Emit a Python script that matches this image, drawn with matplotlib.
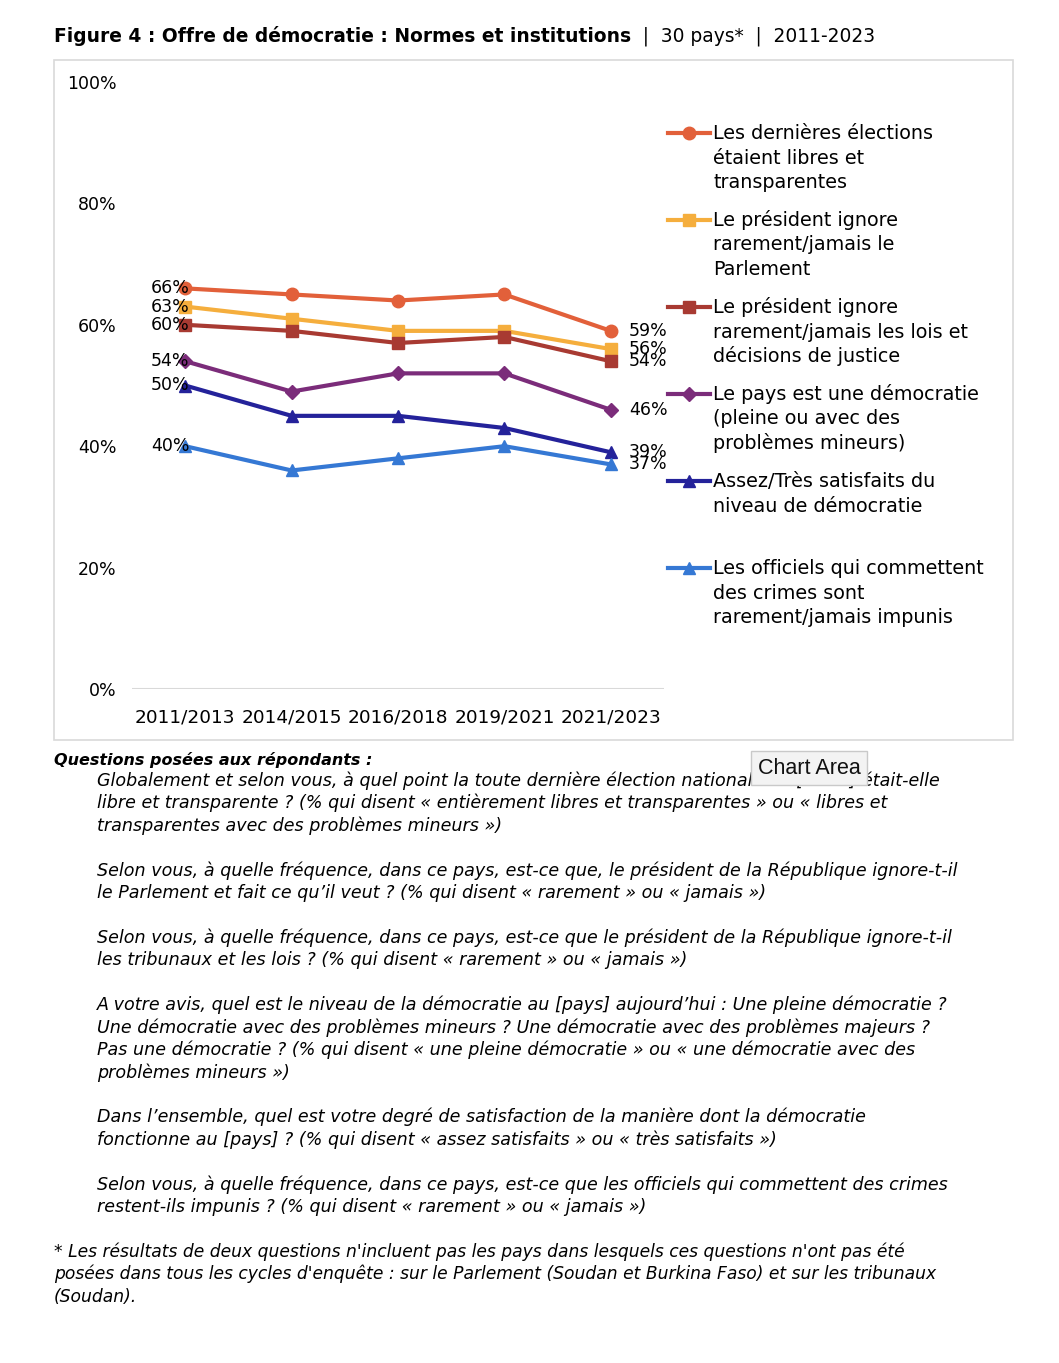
import matplotlib
matplotlib.use('Agg')
import matplotlib.pyplot as plt
from matplotlib.lines import Line2D
from matplotlib.patches import Rectangle

W, H = 1059, 1363
plt.rcParams['font.family'] = ['DejaVu Sans']

# ---------------- data ----------------
periods = ["2011/2013", "2014/2015", "2016/2018", "2019/2021", "2021/2023"]
series_names = [
    "Les dernières élections\nétaient libres et\ntransparentes",
    "Le président ignore\nrarement/jamais le\nParlement",
    "Le président ignore\nrarement/jamais les lois et\ndécisions de justice",
    "Le pays est une démocratie\n(pleine ou avec des\nproblèmes mineurs)",
    "Assez/Très satisfaits du\nniveau de démocratie",
    "Les officiels qui commettent\ndes crimes sont\nrarement/jamais impunis",
]
elections = [66, 65, 64, 65, 59]
parlement = [63, 61, 59, 59, 56]
justice = [60, 59, 57, 58, 54]
democratie = [54, 49, 52, 52, 46]
satisfaits = [50, 45, 45, 43, 39]
impunis = [40, 36, 38, 40, 37]
series_values = [elections, parlement, justice, democratie, satisfaits, impunis]
yticks = [0, 20, 40, 60, 80, 100]

title_bold = "Figure 4 : Offre de démocratie : Normes et institutions"
title_rest = "  |  30 pays*  |  2011-2023"
questions_header = "Questions posées aux répondants :"
questions = [
    ["Globalement et selon vous, à quel point la toute dernière élection nationale de [20XX] était-elle",
     "libre et transparente ? (% qui disent « entièrement libres et transparentes » ou « libres et",
     "transparentes avec des problèmes mineurs »)"],
    ["Selon vous, à quelle fréquence, dans ce pays, est-ce que, le président de la République ignore-t-il",
     "le Parlement et fait ce qu’il veut ? (% qui disent « rarement » ou « jamais »)"],
    ["Selon vous, à quelle fréquence, dans ce pays, est-ce que le président de la République ignore-t-il",
     "les tribunaux et les lois ? (% qui disent « rarement » ou « jamais »)"],
    ["A votre avis, quel est le niveau de la démocratie au [pays] aujourd’hui : Une pleine démocratie ?",
     "Une démocratie avec des problèmes mineurs ? Une démocratie avec des problèmes majeurs ?",
     "Pas une démocratie ? (% qui disent « une pleine démocratie » ou « une démocratie avec des",
     "problèmes mineurs »)"],
    ["Dans l’ensemble, quel est votre degré de satisfaction de la manière dont la démocratie",
     "fonctionne au [pays] ? (% qui disent « assez satisfaits » ou « très satisfaits »)"],
    ["Selon vous, à quelle fréquence, dans ce pays, est-ce que les officiels qui commettent des crimes",
     "restent-ils impunis ? (% qui disent « rarement » ou « jamais »)"],
]
footnote = [
    "* Les résultats de deux questions n'incluent pas les pays dans lesquels ces questions n'ont pas été",
    "posées dans tous les cycles d'enquête : sur le Parlement (Soudan et Burkina Faso) et sur les tribunaux",
    "(Soudan).",
]

# ---------------- style ----------------
colors = ['#E2603A', '#F5AE3D', '#A83A32', '#7B2C7A', '#24229A', '#3578D4']
markers = ['o', 's', 's', 'D', '^', '^']
msizes = [9, 8.5, 8.5, 7, 9, 9]


def fx(x):
    return x / W


def fy(y):
    return 1 - y / H


fig = plt.figure(figsize=(W / 100, H / 100), dpi=100)
fig.patch.set_facecolor('white')

# chart frame
fig.add_artist(Rectangle((fx(54), fy(740)), fx(1013) - fx(54), fy(60) - fy(740),
                         transform=fig.transFigure, facecolor='none',
                         edgecolor='#d9d9d9', lw=1.2))

ax = fig.add_axes([fx(132), fy(689), fx(664) - fx(132), fy(82) - fy(689)])
ax.set_xlim(-0.5, len(periods) - 0.5)
ax.set_ylim(0, 100)
for s in ax.spines.values():
    s.set_visible(False)
ax.axhline(0, color='#d9d9d9', lw=1.5, zorder=1)
ax.set_yticks(yticks)
ax.set_yticklabels([f"{v}%" for v in yticks], fontsize=12.5)
ax.set_xticks(range(len(periods)))
ax.set_xticklabels(periods, fontsize=13.3)
ax.tick_params(axis='both', length=0)
ax.tick_params(axis='y', pad=11)
ax.tick_params(axis='x', pad=14)

x = list(range(len(periods)))
for vals, c, m, ms in zip(series_values, colors, markers, msizes):
    ax.plot(x, vals, color=c, lw=3, marker=m, markersize=ms, clip_on=False, zorder=3)
    ax.annotate(f"{vals[0]}%", (x[0], vals[0]), xytext=(3, 0), textcoords='offset points',
                ha='right', va='center', fontsize=12.5, zorder=4)
    ax.annotate(f"{vals[-1]}%", (x[-1], vals[-1]), xytext=(13, 0), textcoords='offset points',
                ha='left', va='center', fontsize=12.5, zorder=4)

# legend (manual, fixed entry pitch like the original)
for i, (name, c, m, ms) in enumerate(zip(series_names, colors, markers, msizes)):
    yc = 133 + 87 * i
    fig.add_artist(Line2D([fx(668), fx(710)], [fy(yc), fy(yc)], transform=fig.transFigure,
                          color=c, lw=3))
    fig.add_artist(Line2D([fx(689)], [fy(yc)], transform=fig.transFigure, color=c,
                          marker=m, markersize=ms, lw=0))
    for j, line in enumerate(name.split("\n")):
        fig.text(fx(713), fy(yc + 24.5 * j + 6), line, fontsize=13.8, va='baseline', ha='left')

# title
renderer = fig.canvas.get_renderer()
t1 = fig.text(fx(54), fy(42), title_bold, fontsize=13.4, fontweight='bold', va='baseline')
bb = t1.get_window_extent(renderer)
fig.text(bb.x1 / W, fy(42), title_rest, fontsize=13.4, va='baseline')

# questions
fig.text(fx(54), fy(765), questions_header, fontsize=11.5, fontweight='bold', style='italic',
         va='baseline')
pitch = 22.43
row = 0
for para in questions:
    for line in para:
        fig.text(fx(97), fy(781 + pitch * row + 5), line, fontsize=12.6, style='italic',
                 va='baseline')
        row += 1
    row += 1
for line in footnote:
    fig.text(fx(54), fy(781 + pitch * row + 5), line, fontsize=12.3, style='italic', va='baseline')
    row += 1

# "Chart Area" tooltip as in the screenshot
fig.text(fx(809), fy(768), "Chart Area", fontsize=15.5, family='Liberation Sans',
         ha='center', va='center', color='#111111',
         bbox=dict(boxstyle='square,pad=0.3', facecolor='#f3f3f3', edgecolor='#c9c9c9', lw=1),
         zorder=10)

fig.savefig('out.png', dpi=100, facecolor='white')
